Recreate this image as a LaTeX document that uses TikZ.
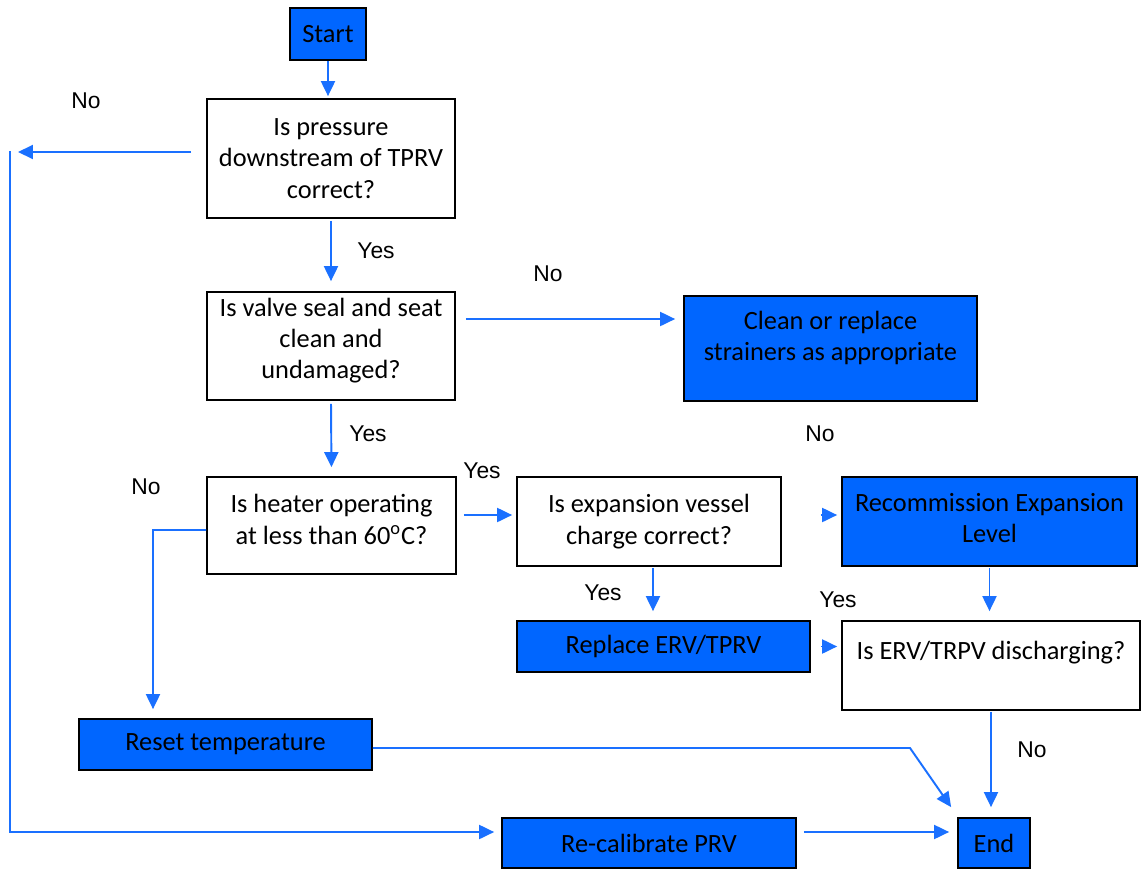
\documentclass[tikz,border=0pt]{standalone}
\usepackage{fontspec}
\setmainfont{Carlito}
\newfontfamily\labelfont{Liberation Sans}
\usetikzlibrary{arrows.meta,positioning,calc}
\definecolor{boxblue}{RGB}{0,102,255}
\definecolor{flowblue}{RGB}{26,112,255}
\tikzset{
  qbox/.style={draw=black, line width=1pt, fill=white, align=center, inner sep=2pt,
    font=\fontsize{15}{17.8}\selectfont},
  actbox/.style={qbox, fill=boxblue},
  flow/.style={draw=flowblue, line width=1.1pt, -{Triangle[length=0.3cm,width=0.28cm]}},
  lbl/.style={font=\labelfont\fontsize{13}{15}\selectfont}
}

\begin{document}
\begin{tikzpicture}[x=0.02cm, y=-0.02cm]
    \useasboundingbox (0,0) rectangle (1144,876);

    % Boxes
    \node [actbox, minimum width=1.52cm, minimum height=1.04cm] (start) at (328,34) {Start};
    \node [qbox, minimum width=4.96cm, minimum height=2.38cm] (q1) at (331,158.5) {Is pressure\\downstream of TPRV\\correct?};
    \node [qbox, minimum width=4.96cm, minimum height=2.16cm, text depth=0.3cm] (q2) at (331,346) {Is valve seal and seat\\clean and\\undamaged?};
    \node [actbox, minimum width=5.86cm, minimum height=2.1cm, text depth=0.5cm] (clean) at (830.5,348.5) {Clean or replace\\strainers as appropriate};
    \node [qbox, minimum width=4.98cm, minimum height=1.94cm, text depth=0.25cm] (q3) at (331.5,525.5) {Is heater operating\\at less than 60\textsuperscript{o}C?};
    \node [qbox, minimum width=5.28cm, minimum height=1.78cm] (q4) at (649,521.5) {Is expansion vessel\\charge correct?};
    \node [actbox, minimum width=5.9cm, minimum height=1.78cm, text depth=0.15cm] (recom) at (989.5,521.5) {Recommission Expansion\\Level};
    \node [actbox, minimum width=5.86cm, minimum height=1.02cm] (replace) at (663.5,646.5) {Replace ERV/TPRV};
    \node [qbox, minimum width=5.96cm, minimum height=1.78cm] (disch) at (991,665.5) {Is ERV/TRPV discharging?\\ \mbox{}};
    \node [actbox, minimum width=5.86cm, minimum height=1.02cm] (reset) at (225.5,744.5) {Reset temperature};
    \node [actbox, minimum width=5.88cm, minimum height=1.0cm] (recal) at (649,843) {Re-calibrate PRV};
    \node [actbox, minimum width=1.44cm, minimum height=1.0cm] (end) at (994,843) {End};

    % Bend points
    \coordinate (tipL) at (18,152);
    \coordinate (upL) at (10,151);
    \coordinate (lowL) at (10,832);
    \coordinate (downH) at (153,530);
    \coordinate (bendR) at (910,748);

    % Connectors
    \draw [flow, shorten >=0.04cm] (start.south) -- (start.south |- q1.north);
    \draw [flow, shorten <=0.3cm] (q1.west |- tipL) -- (tipL);
    \draw [flow, shorten >=0.14cm] (upL) -- (lowL) -- (lowL -| recal.west);
    \draw [flow, shorten <=0.04cm, shorten >=0.2cm] (q1.south) -- (q2.north);
    \draw [flow, shorten <=0.2cm, shorten >=0.16cm] ([yshift=0.54cm]q2.east) -- ([yshift=0.54cm]q2.east -| clean.west);
    \draw [flow, shorten <=0.06cm, shorten >=0.18cm] (q2.south) -- (q3.north);
    \draw [flow, shorten <=0.14cm, shorten >=0.08cm] ([yshift=0.21cm]q3.east) -- ([yshift=0.21cm]q3.east -| q4.west);
    \draw [flow, shorten >=0.18cm] ([yshift=-0.09cm]q3.west) -- (downH) -- (downH |- reset.north);
    \draw [flow, shorten <=0.78cm, shorten >=0.08cm] ([yshift=0.13cm]q4.east) -- ([yshift=0.13cm]q4.east -| recom.west);
    \draw [flow, shorten <=0.02cm, shorten >=0.18cm] ([xshift=0.08cm]q4.south) -- ([xshift=0.08cm]q4.south |- replace.north);
    \draw [flow, shorten <=0.02cm, shorten >=0.18cm] (recom.south) -- (recom.south |- disch.north);
    \draw [flow, shorten <=0.2cm, shorten >=0.08cm] (replace.east) -- (replace.east -| disch.west);
    \draw [flow, shorten <=0.02cm, shorten >=0.2cm] (disch.south) -- (disch.south |- end.north);
    \draw [flow] (reset.east |- bendR) -- (bendR) -- ([shift={(-6,-10)}]end.north west);
    \draw [flow, shorten <=0.14cm, shorten >=0.16cm] (recal.east |- lowL) -- (end.west |- lowL);

    % Labels
    \node [lbl] (noA) at (86,101) {No};
    \node [lbl] (yesA) at (376,251) {Yes};
    \node [lbl] (noB) at (548,274) {No};
    \node [lbl] (yesB) at (368,434) {Yes};
    \node [lbl] (noC) at (146,487) {No};
    \node [lbl] (yesC) at (482,471) {Yes};
    \node [lbl] (noD) at (820,434) {No};
    \node [lbl] (yesD) at (603,593) {Yes};
    \node [lbl] (yesE) at (838,600) {Yes};
    \node [lbl] (noE) at (1032,750) {No};
\end{tikzpicture}
\end{document}
